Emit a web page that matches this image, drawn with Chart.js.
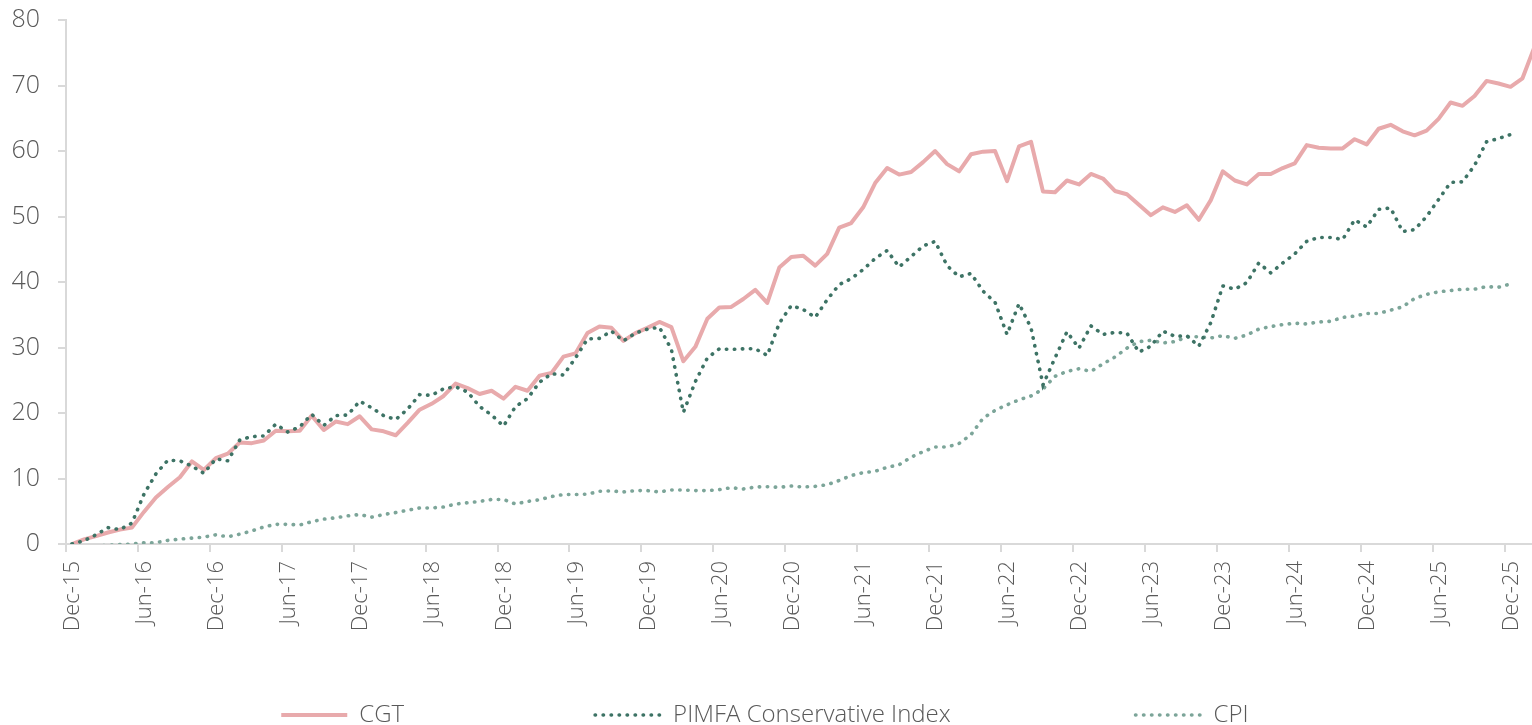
<!DOCTYPE html>
<html>
<head>
<meta charset="utf-8">
<title>CGT vs PIMFA Conservative Index vs CPI</title>
<script src="https://cdn.jsdelivr.net/npm/chart.js@4.4.1/dist/chart.umd.min.js"></script>
<style>
  html, body { margin: 0; padding: 0; background: #fff; overflow: hidden; }
  canvas { display: block; }
</style>
</head>
<body>
<canvas id="chart" width="1540" height="737"></canvas>
<script>
// x-axis labels, one every 6 months starting Dec-15
const tickLabels = ["Dec-15", "Jun-16", "Dec-16", "Jun-17", "Dec-17", "Jun-18", "Dec-18",
  "Jun-19", "Dec-19", "Jun-20", "Dec-20", "Jun-21", "Dec-21", "Jun-22", "Dec-22",
  "Jun-23", "Dec-23", "Jun-24", "Dec-24", "Jun-25", "Dec-25"];

// monthly cumulative returns (%), first value = Dec-15
const cgt = [
  0, 0.7, 1.2, 1.75, 2.2, 2.5, 4.9, 7.1, 8.7, 10.2, 12.6, 11.3,
  13.1, 13.8, 15.5, 15.4, 15.8, 17.3, 17.2, 17.3, 19.6, 17.4, 18.7, 18.3,
  19.5, 17.5, 17.2, 16.6, 18.5, 20.5, 21.4, 22.6, 24.5, 23.8, 22.9, 23.4,
  22.2, 24.0, 23.4, 25.7, 26.1, 28.6, 29.1, 32.2, 33.2, 33.0, 31.0, 32.2,
  33.0, 33.9, 33.1, 27.9, 30.1, 34.4, 36.1, 36.2, 37.4, 38.8, 36.8, 42.2,
  43.8, 44.0, 42.5, 44.3, 48.3, 49.0, 51.4, 55.1, 57.4, 56.4, 56.8, 58.3,
  60.0, 58.0, 56.9, 59.5, 59.9, 60.0, 55.4, 60.7, 61.4, 53.8, 53.7, 55.5,
  54.9, 56.5, 55.8, 53.9, 53.4, 51.8, 50.2, 51.4, 50.7, 51.7, 49.5, 52.5,
  56.9, 55.5, 54.9, 56.5, 56.5, 57.4, 58.1, 60.9, 60.5, 60.4, 60.4, 61.8,
  61.0, 63.4, 64.0, 63.0, 62.4, 63.1, 64.9, 67.4, 66.9, 68.4, 70.7, 70.3,
  69.8, 71.1, 75.9
];

const pimfa = [
  0, 0.5, 1.4, 2.5, 2.2, 3.2, 7.6, 10.7, 12.8, 12.7, 11.9, 10.8,
  13.0, 12.7, 15.9, 16.4, 16.5, 18.3, 17.1, 17.9, 19.8, 18.1, 19.6, 19.7,
  21.8, 20.8, 19.6, 19.0, 20.6, 22.8, 22.7, 23.7, 24.0, 23.2, 21.0, 19.7,
  18.0, 21.0, 22.2, 24.7, 26.0, 25.8, 28.4, 31.3, 31.4, 32.5, 31.0, 32.2,
  32.8, 33.1, 29.7, 20.1, 24.8, 28.4, 29.8, 29.7, 29.8, 29.8, 28.8, 33.7,
  36.4, 35.8, 34.6, 37.3, 39.6, 40.5, 41.9, 43.6, 44.8, 42.3, 43.9, 45.5,
  46.2, 42.5, 40.8, 41.3, 38.6, 36.9, 32.0, 36.7, 33.0, 24.3, 28.4, 32.4,
  29.9, 33.3, 32.0, 32.3, 32.2, 29.3, 30.2, 32.5, 31.7, 31.8, 30.2, 33.8,
  39.4, 38.9, 39.9, 42.9, 41.4, 42.9, 44.3, 46.2, 46.8, 46.8, 46.5, 49.5,
  48.4, 51.1, 51.3, 47.7, 48.0, 50.0, 52.6, 55.2, 55.3, 57.8, 61.4, 61.9,
  62.5
];

const cpi = [
  0, -0.4, -0.35, -0.2, -0.1, 0.0, 0.2, 0.2, 0.55, 0.75, 0.9, 1.05,
  1.4, 1.1, 1.5, 2.0, 2.6, 3.0, 3.0, 2.9, 3.4, 3.8, 4.0, 4.3,
  4.5, 4.1, 4.5, 4.8, 5.15, 5.5, 5.5, 5.65, 6.1, 6.3, 6.5, 6.8,
  6.8, 6.1, 6.5, 6.75, 7.25, 7.55, 7.55, 7.6, 8.05, 8.1, 7.95, 8.15,
  8.15, 7.95, 8.25, 8.25, 8.15, 8.15, 8.3, 8.6, 8.4, 8.7, 8.75, 8.65,
  8.85, 8.7, 8.8, 9.05, 9.7, 10.45, 10.9, 11.1, 11.7, 12.1, 13.25, 14.1,
  14.8, 14.8, 15.35, 16.7, 19.2, 20.4, 21.25, 22.0, 22.6, 23.65, 25.6, 26.35,
  26.75, 26.35, 27.5, 28.55, 29.9, 30.9, 31.1, 30.7, 30.9, 31.6, 31.65, 31.45,
  31.8, 31.4, 31.9, 32.8, 33.2, 33.5, 33.7, 33.6, 33.9, 34.0, 34.6, 34.8,
  35.2, 35.2, 35.7, 36.2, 37.5, 38.1, 38.5, 38.7, 38.9, 38.9, 39.3, 39.2,
  39.7
];

const axisGrey = "#d9d9d9";
const textGrey = "#595959";
const legendFont = "300 24px 'Open Sans', sans-serif";
// extra blank space after each legend entry (px)
const legendGaps = [185, 175, 2];

// points sit in the middle of each month, ticks on month boundaries
function toPoints(values) {
  return values.map((v, i) => ({ x: i + 0.5, y: v }));
}

Chart.defaults.font.family = "'Open Sans', sans-serif";
Chart.defaults.font.size = 22;
Chart.defaults.font.weight = 300;
Chart.defaults.color = textGrey;

const ctx = document.getElementById("chart").getContext("2d");

new Chart(ctx, {
  type: "line",
  data: {
    datasets: [
      {
        label: "CGT",
        data: toPoints(cgt),
        borderColor: "#e8aaac",
        backgroundColor: "#e8aaac",
        borderWidth: 4,
        borderJoinStyle: "round",
        pointRadius: 0,
        tension: 0,
        order: 3
      },
      {
        label: "PIMFA Conservative Index",
        data: toPoints(pimfa),
        borderColor: "#3d7365",
        backgroundColor: "#3d7365",
        borderWidth: 3.6,
        borderDash: [0.4, 7.6],
        borderCapStyle: "round",
        pointRadius: 0,
        tension: 0,
        order: 1
      },
      {
        label: "CPI",
        data: toPoints(cpi),
        borderColor: "#7ca599",
        backgroundColor: "#7ca599",
        borderWidth: 3.6,
        borderDash: [0.4, 7.6],
        borderCapStyle: "round",
        pointRadius: 0,
        tension: 0,
        order: 2
      }
    ]
  },
  options: {
    responsive: false,
    animation: false,
    layout: { padding: { top: 20, right: 4, left: 0, bottom: 0 } },
    scales: {
      x: {
        type: "linear",
        min: 0,
        max: 122.5,
        afterBuildTicks: (scale) => {
          scale.ticks = tickLabels.map((_, k) => ({ value: k * 6 }));
        },
        afterFit: (scale) => { scale.height = 155; },
        ticks: {
          autoSkip: false,
          minRotation: 90,
          maxRotation: 90,
          labelOffset: 7,
          padding: 9,
          color: textGrey,
          callback: (v) => tickLabels[Math.round(v / 6)]
        },
        grid: {
          drawOnChartArea: false,
          drawTicks: true,
          tickLength: 8,
          color: axisGrey,
          lineWidth: 2
        },
        border: { color: axisGrey, width: 2 }
      },
      y: {
        min: 0,
        max: 80,
        afterFit: (scale) => {
          scale.width = 66;
          scale.paddingTop = 10;
          scale.paddingBottom = 10;
        },
        ticks: { stepSize: 10, padding: 18, color: textGrey, font: { size: 25 } },
        grid: {
          drawOnChartArea: false,
          drawTicks: true,
          tickLength: 8,
          color: axisGrey,
          lineWidth: 2
        },
        border: { color: axisGrey, width: 2 }
      }
    },
    plugins: {
      tooltip: { enabled: false },
      legend: {
        position: "bottom",
        labels: {
          usePointStyle: true,
          pointStyle: "line",
          pointStyleWidth: 66,
          padding: 4,
          color: textGrey,
          font: { size: 24 },
          generateLabels: (chart) => {
            const items = Chart.defaults.plugins.legend.labels.generateLabels(chart);
            items.sort((a, b) => a.datasetIndex - b.datasetIndex);
            const c = chart.ctx;
            c.save();
            c.font = legendFont;
            items.forEach((it, k) => {
              const ds = chart.data.datasets[it.datasetIndex];
              it.strokeStyle = ds.borderColor;
              it.fillStyle = ds.borderColor;
              it.lineWidth = ds.borderWidth;
              it.lineDash = ds.borderDash || [];
              it.lineCap = ds.borderCapStyle || "butt";
              const base = c.measureText(it.text).width;
              while (c.measureText(it.text).width < base + legendGaps[k]) it.text += " ";
            });
            c.restore();
            return items;
          }
        }
      }
    }
  }
});
</script>
</body>
</html>
